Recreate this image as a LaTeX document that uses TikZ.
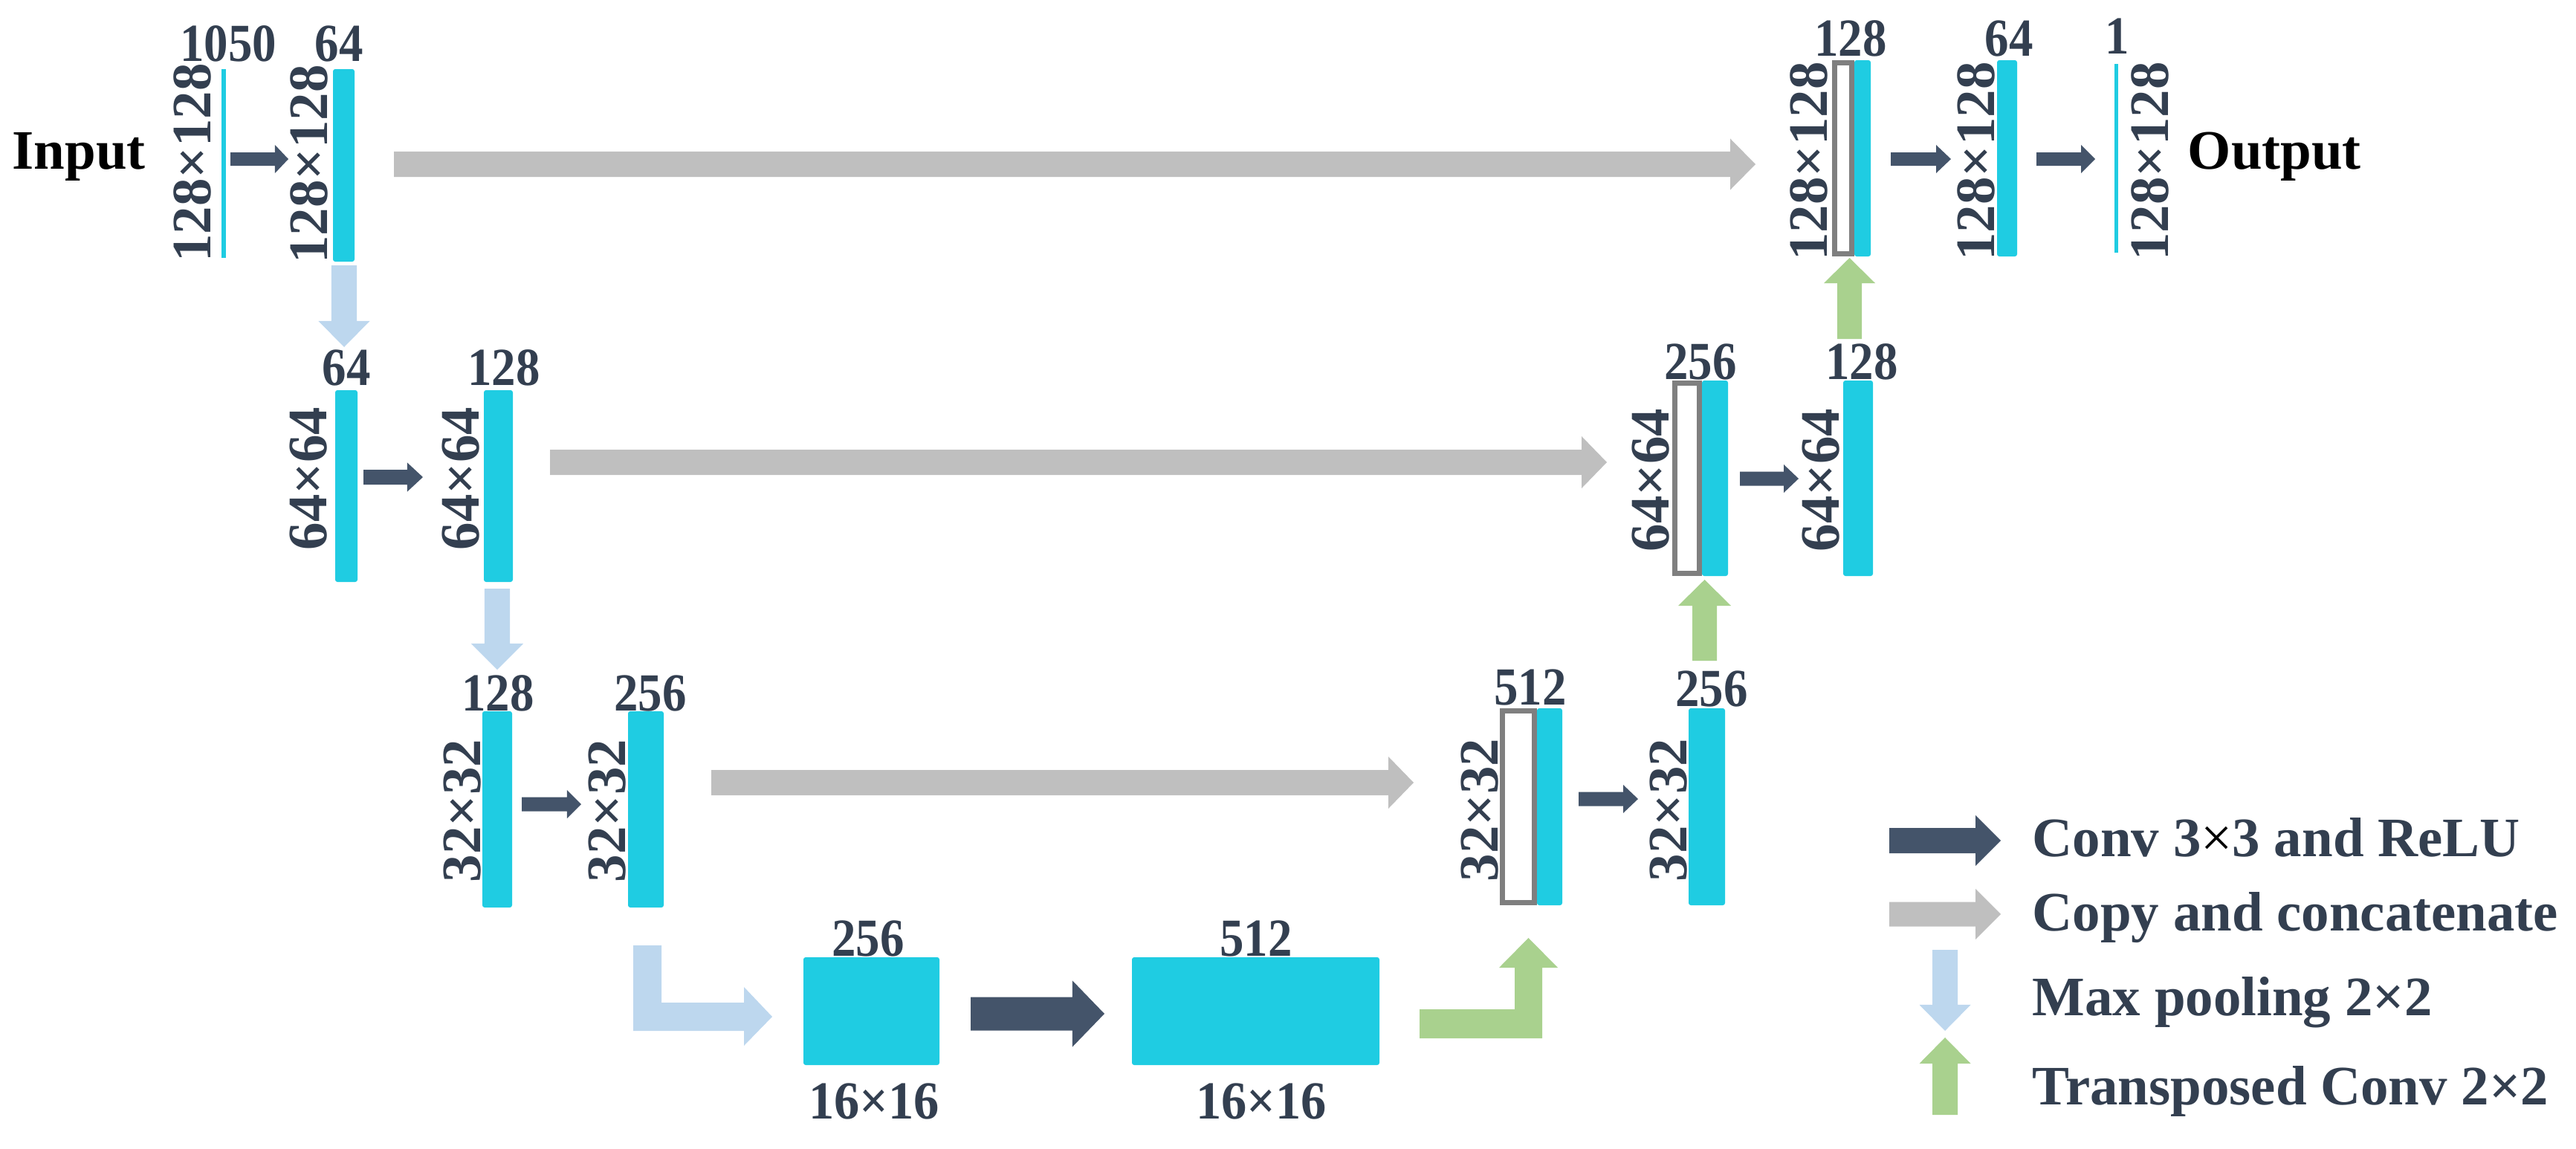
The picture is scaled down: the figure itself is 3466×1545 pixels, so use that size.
\documentclass[tikz,border=0pt]{standalone}
\usepackage{fontspec}
\setmainfont{Liberation Serif}
\usetikzlibrary{calc,fit}
\definecolor{cyanc}{HTML}{1FCCE2}
\definecolor{convc}{HTML}{44546A}
\definecolor{copyc}{HTML}{BFBFBF}
\definecolor{poolc}{HTML}{BDD7EE}
\definecolor{upc}{HTML}{A9D18E}
\definecolor{txtc}{HTML}{333F50}
\definecolor{catc}{HTML}{7F7F7F}
% fat block arrow: #1 colour, #2 from, #3 to, #4 shaft half width, #5 head half width, #6 head length
\newcommand\fatarrow[6]{%
  \path ($(#3)!#6!(#2)$) coordinate (fahd);
  \fill[#1] ($(#2)!#4!90:(#3)$) -- ($(fahd)!#4!90:(#3)$) -- ($(fahd)!#5!90:(#3)$) -- (#3)
    -- ($(fahd)!#5!-90:(#3)$) -- ($(fahd)!#4!-90:(#3)$) -- ($(#2)!#4!-90:(#3)$) -- cycle;}
\begin{document}
\begin{tikzpicture}[x=0.01cm,y=-0.01cm,
  blk/.style={fill=cyanc,draw=none,rounded corners=0.03cm,inner sep=0pt,outer sep=0pt},
  thin/.style={fill=cyanc,draw=none,inner sep=0pt,outer sep=0pt},
  cat/.style={draw=catc,line width=0.07cm,fill=white,inner sep=0pt,outer sep=0pt},
  lbl/.style={text=txtc,inner sep=0pt,anchor=base,xscale=0.9,
    font=\fontsize{20.5pt}{20.5pt}\selectfont\bfseries},
  blbl/.style={text=txtc,inner sep=0pt,anchor=base,
    font=\fontsize{20.5pt}{20.5pt}\selectfont\bfseries},
  rlbl/.style={text=txtc,inner sep=0pt,anchor=base,rotate=90,
    font=\fontsize{21.3pt}{21.3pt}\selectfont\bfseries},
  ttl/.style={text=black,inner sep=0pt,anchor=base west,
    font=\fontsize{21.3pt}{21.3pt}\selectfont\bfseries},
  leg/.style={text=txtc,inner sep=0pt,anchor=base west,
    font=\fontsize{21.3pt}{21.3pt}\selectfont\bfseries}]
\useasboundingbox (0,0) rectangle (3466,1545);

% ---------- row 1 ----------
\node[ttl] (inp) at (16,227) {Input};
\node[thin,fit={(298,93)(304,347)}] (l0) {};
\node[rlbl] (l0d) at (283,219) {128×128};
\node[lbl] (l0c) at (307,82) {1050};
\node[blk,fit={(448,93)(477,352)}] (b1) {};
\node[rlbl] (b1d) at (440,221) {128×128};
\node[lbl] (b1c) at (456,82) {64};

\node[cat,fit={(2468.5,84.5)(2491.5,341.5)}] (k1g) {};
\node[blk,fit={(2495,81)(2517,345)}] (k1) {};
\node[rlbl] (k1d) at (2458,217) {128×128};
\node[lbl] (k1c) at (2490,75) {128};
\node[blk,fit={(2687,81)(2714,345)}] (o1) {};
\node[rlbl] (o1d) at (2683,217) {128×128};
\node[lbl] (o1c) at (2703,75) {64};
\node[thin,fit={(2845,86)(2850,340)}] (out) {};
\node[rlbl] (outd) at (2917,217) {128×128};
\node[lbl] (outc) at (2849,72) {1};
\node[ttl] (outp) at (2943,227) {Output};

% ---------- row 2 ----------
\node[blk,fit={(451,525)(481,783)}] (b2a) {};
\node[rlbl] (b2ad) at (439,644) {64×64};
\node[lbl] (b2ac) at (466,518) {64};
\node[blk,fit={(651,525)(690,783)}] (b2b) {};
\node[rlbl] (b2bd) at (644,644) {64×64};
\node[lbl] (b2bc) at (678,518) {128};

\node[cat,fit={(2253.5,515.5)(2286.5,771.5)}] (k2g) {};
\node[blk,fit={(2290,512)(2325,775)}] (k2) {};
\node[rlbl] (k2d) at (2245,646) {64×64};
\node[lbl] (k2c) at (2288,510) {256};
\node[blk,fit={(2480,512)(2520,775)}] (b2d) {};
\node[rlbl] (b2dd) at (2474,646) {64×64};
\node[lbl] (b2dc) at (2505,510) {128};

% ---------- row 3 ----------
\node[blk,fit={(649,957)(689,1221)}] (b3a) {};
\node[rlbl] (b3ad) at (646,1091) {32×32};
\node[lbl] (b3ac) at (670,956) {128};
\node[blk,fit={(845,957)(893,1221)}] (b3b) {};
\node[rlbl] (b3bd) at (841,1091) {32×32};
\node[lbl] (b3bc) at (875,956) {256};

\node[cat,fit={(2021.5,956.5)(2064.5,1214.5)}] (k3g) {};
\node[blk,fit={(2068,953)(2102,1218)}] (k3) {};
\node[rlbl] (k3d) at (2015,1090) {32×32};
\node[lbl] (k3c) at (2059,948) {512};
\node[blk,fit={(2272,953)(2321,1218)}] (b3d) {};
\node[rlbl] (b3dd) at (2269,1090) {32×32};
\node[lbl] (b3dc) at (2303,950) {256};

% ---------- row 4 ----------
\node[blk,fit={(1081,1288)(1264,1433)}] (b4a) {};
\node[lbl] (b4ac) at (1168,1286) {256};
\node[blbl,xscale=0.95] (b4ad) at (1176,1505) {16×16};
\node[blk,fit={(1523,1288)(1856,1433)}] (b4b) {};
\node[lbl] (b4bc) at (1690,1286) {512};
\node[blbl,xscale=0.95] (b4bd) at (1697,1505) {16×16};

% ---------- conv arrows ----------
\coordinate (c1a) at (310,214);  \coordinate (c1b) at (388,214);
\fatarrow{convc}{c1a}{c1b}{0.09cm}{0.19cm}{0.18cm}
\coordinate (c2a) at (2544,214); \coordinate (c2b) at (2625,214);
\fatarrow{convc}{c2a}{c2b}{0.09cm}{0.19cm}{0.2cm}
\coordinate (c3a) at (2740,214); \coordinate (c3b) at (2819,214);
\fatarrow{convc}{c3a}{c3b}{0.09cm}{0.19cm}{0.19cm}
\coordinate (c4a) at (489,642);  \coordinate (c4b) at (569,642);
\fatarrow{convc}{c4a}{c4b}{0.1cm}{0.195cm}{0.21cm}
\coordinate (c5a) at (2341,644); \coordinate (c5b) at (2420,644);
\fatarrow{convc}{c5a}{c5b}{0.095cm}{0.19cm}{0.2cm}
\coordinate (c6a) at (702,1082); \coordinate (c6b) at (782,1082);
\fatarrow{convc}{c6a}{c6b}{0.095cm}{0.19cm}{0.19cm}
\coordinate (c7a) at (2124,1075); \coordinate (c7b) at (2204,1075);
\fatarrow{convc}{c7a}{c7b}{0.095cm}{0.19cm}{0.2cm}
\coordinate (c8a) at (1306,1364); \coordinate (c8b) at (1486,1364);
\fatarrow{convc}{c8a}{c8b}{0.225cm}{0.445cm}{0.43cm}

% ---------- copy arrows ----------
\coordinate (g1a) at (530,221);  \coordinate (g1b) at (2362,221);
\fatarrow{copyc}{g1a}{g1b}{0.17cm}{0.345cm}{0.34cm}
\coordinate (g2a) at (740,622);  \coordinate (g2b) at (2162,622);
\fatarrow{copyc}{g2a}{g2b}{0.17cm}{0.35cm}{0.34cm}
\coordinate (g3a) at (957,1053); \coordinate (g3b) at (1902,1053);
\fatarrow{copyc}{g3a}{g3b}{0.17cm}{0.35cm}{0.34cm}

% ---------- pooling arrows ----------
\coordinate (p1a) at (463,357); \coordinate (p1b) at (463,467);
\fatarrow{poolc}{p1a}{p1b}{0.17cm}{0.345cm}{0.35cm}
\coordinate (p2a) at (669,792); \coordinate (p2b) at (669,901);
\fatarrow{poolc}{p2a}{p2b}{0.17cm}{0.35cm}{0.35cm}
\fill[poolc] (852,1272) -- (890,1272) -- (890,1349) -- (1001,1349) -- (1001,1328)
  -- (1039,1368) -- (1001,1407) -- (1001,1387) -- (852,1387) -- cycle;

% ---------- up-conv arrows ----------
\coordinate (u1a) at (2488.5,456); \coordinate (u1b) at (2488.5,347);
\fatarrow{upc}{u1a}{u1b}{0.165cm}{0.345cm}{0.34cm}
\coordinate (u2a) at (2293.5,889); \coordinate (u2b) at (2293.5,780);
\fatarrow{upc}{u2a}{u2b}{0.165cm}{0.355cm}{0.35cm}
\fill[upc] (1910,1397) -- (2075,1397) -- (2075,1302) -- (2096,1302) -- (2056.5,1262)
  -- (2017,1302) -- (2038,1302) -- (2038,1358) -- (1910,1358) -- cycle;

% ---------- legend ----------
\coordinate (lca) at (2542,1131); \coordinate (lcb) at (2692,1131);
\fatarrow{convc}{lca}{lcb}{0.17cm}{0.34cm}{0.34cm}
\node[leg] (lct) at (2734,1152) {Conv 3{\color{black}\mdseries ×}3 and ReLU};
\coordinate (lga) at (2542,1230); \coordinate (lgb) at (2692,1230);
\fatarrow{copyc}{lga}{lgb}{0.165cm}{0.34cm}{0.34cm}
\node[leg] (lgt) at (2734,1252) {Copy and concatenate};
\coordinate (lpa) at (2617,1278); \coordinate (lpb) at (2617,1387);
\fatarrow{poolc}{lpa}{lpb}{0.17cm}{0.345cm}{0.35cm}
\node[leg] (lpt) at (2734,1366) {Max pooling 2×2};
\coordinate (lua) at (2617,1500); \coordinate (lub) at (2617,1396);
\fatarrow{upc}{lua}{lub}{0.17cm}{0.345cm}{0.35cm}
\node[leg] (lut) at (2734,1486) {Transposed Conv 2×2};
\end{tikzpicture}
\end{document}
